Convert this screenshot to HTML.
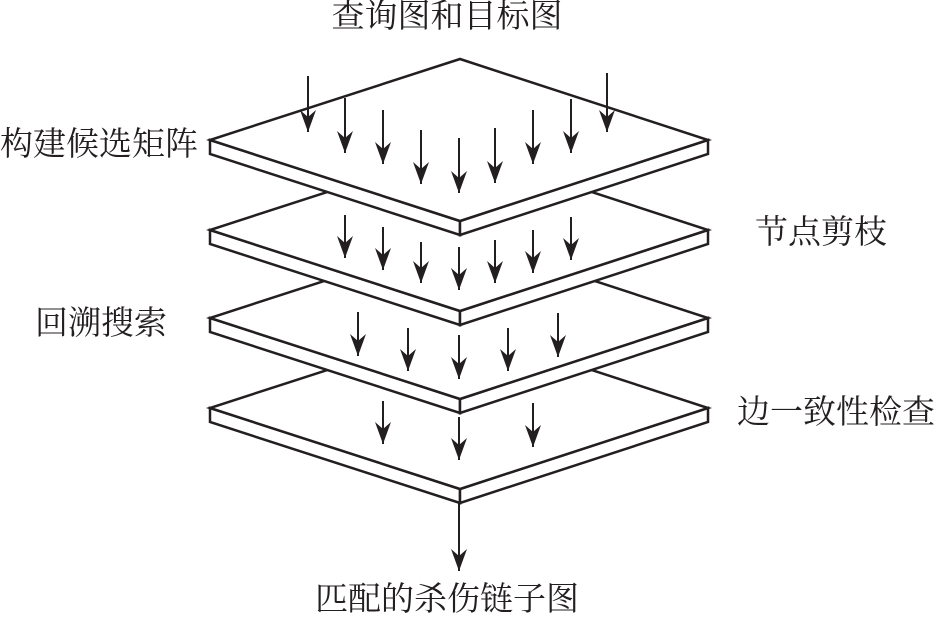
<!DOCTYPE html>
<html><head><meta charset="utf-8"><style>
html,body{margin:0;padding:0;background:#fff;}
svg{display:block;}
text{font-family:"Liberation Serif","Noto Serif CJK SC",serif;font-size:33px;fill:#231f20;dominant-baseline:central;}
</style></head><body>
<svg width="936" height="621" viewBox="0 0 936 621" xmlns="http://www.w3.org/2000/svg">
<defs>
<marker id="a" viewBox="0 0 22 16" refX="22" refY="8" markerWidth="22" markerHeight="16" markerUnits="userSpaceOnUse" orient="auto">
<path d="M0,0 L22,8 L0,16 L7,8 Z" fill="#231f20"/>
</marker>
<g id="plate" fill="#fff" stroke="#231f20" stroke-width="2.5" stroke-linejoin="miter">
<path d="M210,0 L460,81 L460,95 L210,14 Z"/>
<path d="M708,0 L460,81 L460,95 L708,14 Z"/>
<path d="M460,-81 L708,0 L460,81 L210,0 Z"/>
</g>
</defs>
<g stroke="#231f20" stroke-width="2" marker-end="url(#a)">
<line x1="459" y1="503" x2="459" y2="571"/>
</g>
<use href="#plate" transform="translate(0,408)"/>
<g stroke="#231f20" stroke-width="2" marker-end="url(#a)">
<line x1="383" y1="401" x2="383" y2="444"/>
<line x1="459" y1="417" x2="459" y2="460"/>
<line x1="533" y1="403" x2="533" y2="447"/>
</g>
<use href="#plate" transform="translate(0,318)"/>
<g stroke="#231f20" stroke-width="2" marker-end="url(#a)">
<line x1="358" y1="312" x2="358" y2="356"/>
<line x1="408" y1="328" x2="408" y2="371"/>
<line x1="459" y1="335" x2="459" y2="379"/>
<line x1="508" y1="328" x2="508" y2="371"/>
<line x1="558" y1="313" x2="558" y2="357"/>
</g>
<use href="#plate" transform="translate(0,230)"/>
<g stroke="#231f20" stroke-width="2" marker-end="url(#a)">
<line x1="345" y1="215" x2="345" y2="258"/>
<line x1="383" y1="227" x2="383" y2="270"/>
<line x1="421" y1="242" x2="421" y2="283"/>
<line x1="459" y1="247" x2="459" y2="290"/>
<line x1="495" y1="240" x2="495" y2="283"/>
<line x1="533" y1="230" x2="533" y2="273"/>
<line x1="571" y1="217" x2="571" y2="260"/>
</g>
<use href="#plate" transform="translate(0,140)"/>
<g stroke="#231f20" stroke-width="2" marker-end="url(#a)">
<line x1="308" y1="76" x2="308" y2="132"/>
<line x1="345" y1="98" x2="345" y2="153"/>
<line x1="383" y1="110" x2="383" y2="164"/>
<line x1="421" y1="130" x2="421" y2="184"/>
<line x1="459" y1="138" x2="459" y2="193"/>
<line x1="495" y1="128" x2="495" y2="183"/>
<line x1="533" y1="110" x2="533" y2="164"/>
<line x1="571" y1="99" x2="571" y2="153"/>
<line x1="607" y1="73" x2="607" y2="132"/>
</g>
<text x="447" y="17" text-anchor="middle">查询图和目标图</text>
<text x="0" y="145">构建候选矩阵</text>
<text x="755" y="233">节点剪枝</text>
<text x="35" y="324">回溯搜索</text>
<text x="935" y="413" text-anchor="end">边一致性检查</text>
<text x="447" y="600" text-anchor="middle">匹配的杀伤链子图</text>
</svg>
</body></html>
